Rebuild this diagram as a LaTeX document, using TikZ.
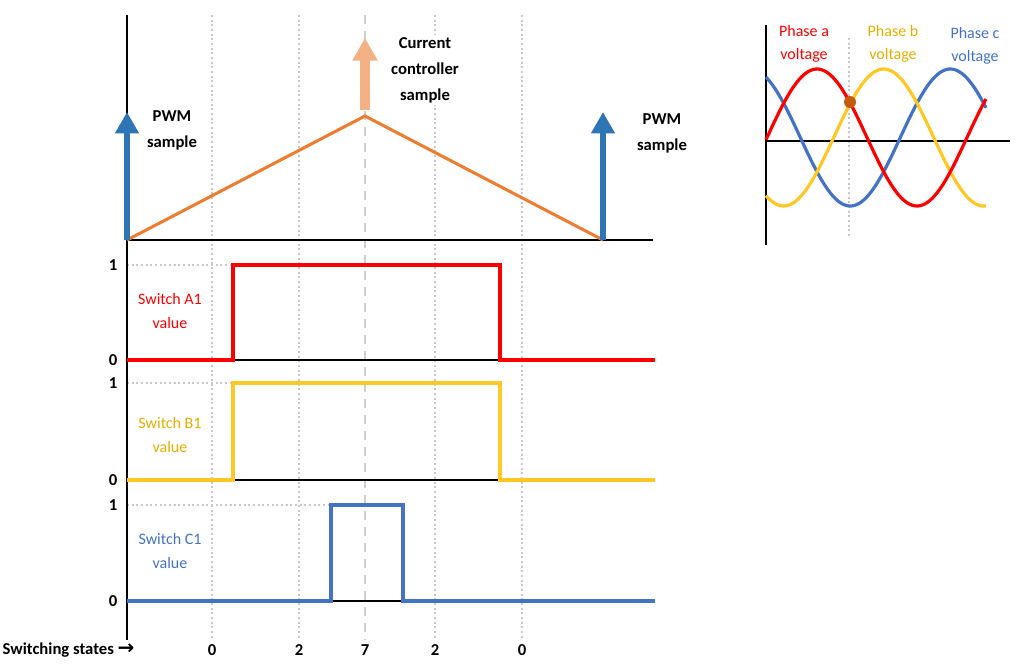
\documentclass[tikz,border=0pt]{standalone}
\usepackage{fontspec}
\setmainfont{Carlito}
\newfontfamily\arrowfont{DejaVu Sans}
\usetikzlibrary{arrows.meta}
\definecolor{sigred}{HTML}{FF0000}
\definecolor{sigyel}{HTML}{FFC825}
\definecolor{txtyel}{HTML}{E3AE00}
\definecolor{sigblue}{HTML}{4472C4}
\definecolor{pwmblue}{HTML}{2E75B6}
\definecolor{triorange}{HTML}{ED7D31}
\definecolor{lightorange}{HTML}{F4B183}
\definecolor{dotbrown}{HTML}{C55A11}
\definecolor{gridgray}{HTML}{C8C8C8}
\definecolor{dashgray}{HTML}{D0D0D0}
\tikzset{
  lbl/.style={font=\fontsize{12.5}{19.5}\selectfont\bfseries, align=center, inner sep=2pt},
  numlbl/.style={font=\fontsize{12.5}{15}\selectfont\bfseries, inner sep=1pt},
  siglbl/.style={font=\fontsize{12}{18}\selectfont, align=center, inner sep=2pt},
  phlbl/.style={font=\fontsize{12}{17}\selectfont, align=center, inner sep=1pt},
  gridline/.style={gridgray, line width=1.4pt, dash pattern=on 1.5pt off 2pt},
  centerline/.style={dashgray, line width=2pt, dash pattern=on 7pt off 5pt},
  axisline/.style={black, line width=1.5pt},
  baseline0/.style={black, line width=1.1pt},
  sig/.style={line width=2.6pt},
  pwmarrow/.style={pwmblue, line width=5.2pt, -{Triangle[width=17pt,length=16pt]}},
  curarrow/.style={lightorange, line width=7pt, -{Triangle[width=18pt,length=17pt]}},
  wave/.style={line width=2.4pt, smooth},
}
\begin{document}
\begin{tikzpicture}[x=0.75pt,y=-0.75pt]
\useasboundingbox (0,0) rectangle (1022,669);

% grid lines
\foreach \gx in {212,299,435,522}{
  \draw[gridline] (\gx,15) -- (\gx,640);
}
\draw[centerline] (365,15) -- (365,640);

% dotted level guides
\draw[gridline] (127,265) -- (233,265);
\draw[gridline] (127,383) -- (233,383);
\draw[gridline] (127,505) -- (331,505);

% axes
\coordinate (axTop) at (127,15);
\coordinate (axBot) at (127,640);
\coordinate (axR) at (653,240);
\draw[axisline] (axTop) -- (axBot);
\draw[axisline] (127,240) -- (axR);

% baselines under pulses
\draw[baseline0] (233,360) -- (500,360);
\draw[baseline0] (233,480) -- (500,480);
\draw[baseline0] (331,601) -- (403,601);

% switch signals
\draw[sig, sigred] (127,360) -- (233,360) -- (233,265) -- (500,265) -- (500,360) -- (655,360);
\draw[sig, sigyel] (127,480) -- (233,480) -- (233,383) -- (500,383) -- (500,480) -- (655,480);
\draw[sig, sigblue] (127,601) -- (331,601) -- (331,505) -- (403,505) -- (403,601) -- (655,601);

% triangle carrier
\coordinate (t0) at (127,240);
\coordinate (tp) at (365,116);
\coordinate (t1) at (603,240);
\draw[triorange, line width=2.3pt, line join=miter] (t0) -- (tp) -- (t1);

% arrows
\coordinate (aL0) at (127,240);
\coordinate (aL1) at (127,112);
\coordinate (aR0) at (603,240);
\coordinate (aR1) at (603,112);
\coordinate (aC0) at (365,110);
\coordinate (aC1) at (365,38);
\draw[pwmarrow] (aL0) -- (aL1);
\draw[pwmarrow] (aR0) -- (aR1);
\draw[curarrow] (aC0) -- (aC1);

% labels top
\node[lbl] (pwmL) at (172,130) {PWM\\sample};
\node[lbl, fill=white] (cur) at (425,70) {Current\\controller\\sample};
\node[lbl] (pwmR) at (662,133) {PWM\\sample};

% level labels
\node[numlbl] (a1) at (113,265) {1};
\node[numlbl] (a0) at (113,360) {0};
\node[numlbl] (b1) at (113,383) {1};
\node[numlbl] (b0) at (113,480) {0};
\node[numlbl] (c1) at (113,505) {1};
\node[numlbl] (c0) at (113,601) {0};

\node[siglbl, text=sigred] (swA) at (170,311) {Switch A1\\value};
\node[siglbl, text=txtyel] (swB) at (170,435) {Switch B1\\value};
\node[siglbl, text=sigblue] (swC) at (170,551) {Switch C1\\value};

% switching states
\node[numlbl, anchor=east] (ss) at (136,650) {Switching states {\arrowfont\fontsize{15}{15}\selectfont\bfseries →}};
\node[numlbl] (s1) at (212,650) {0};
\node[numlbl] (s2) at (299,650) {2};
\node[numlbl] (s3) at (365,650) {7};
\node[numlbl] (s4) at (435,650) {2};
\node[numlbl] (s5) at (522,650) {0};

% phase plot
\draw[gridline] (849,38) -- (849,237);
\draw[axisline] (766,25) -- (766,245);
\draw[axisline] (766,141) -- (1010,141);
\draw[wave, sigblue] plot[domain=766:986, samples=120] (\x, {137.5-68.5*sin(1.8*(\x-900.3))});
\draw[wave, sigyel] plot[domain=766:986, samples=120] (\x, {137.5-68.5*sin(1.8*(\x-833.7))});
\draw[wave, sigred] plot[domain=766:986, samples=120] (\x, {137.5-68.5*sin(1.8*(\x-767))});
\fill[dotbrown] (850,102) circle[radius=6];

\node[phlbl, text=sigred] (pa) at (804,44) {Phase a\\voltage};
\node[phlbl, text=txtyel] (pb) at (893,44) {Phase b\\voltage};
\node[phlbl, text=sigblue] (pc) at (975,46) {Phase c\\voltage};
\end{tikzpicture}
\end{document}
